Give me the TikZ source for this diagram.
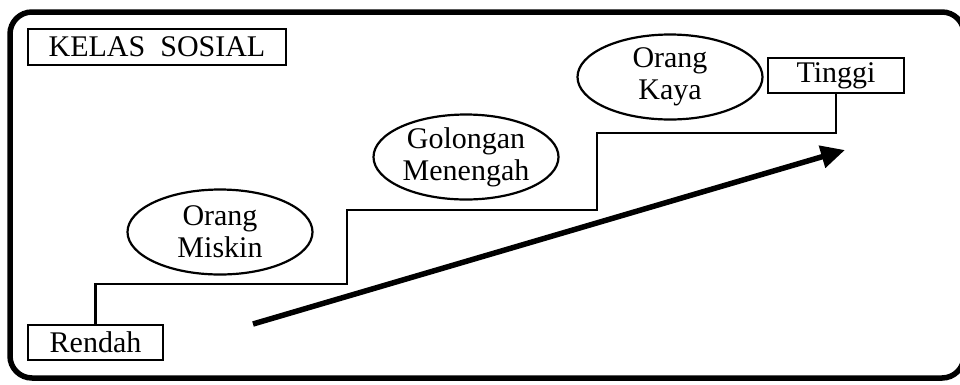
\documentclass[tikz,border=0pt]{standalone}
\usepackage{fontspec}
\setmainfont{Liberation Serif}
\usetikzlibrary{shapes.geometric,arrows.meta}
\begin{document}
\begin{tikzpicture}[x=1pt,y=-1pt,
  lbl/.style={font=\fontsize{30}{32}\selectfont, align=center},
  box/.style={lbl, draw, line width=2.2pt, rectangle, inner sep=0pt},
  oval/.style={lbl, draw, line width=2.2pt, ellipse, inner sep=0pt, minimum width=185pt, minimum height=85pt},
  stepline/.style={line width=2.8pt, line join=miter},
  bigarrow/.style={line width=5.5pt, -{Triangle[length=24pt,width=22pt]}},
  frame/.style={line width=5.5pt, rounded corners=22pt}]
\useasboundingbox (0,0) rectangle (960,384);
\clip (0,0) rectangle (960,384);
\draw[frame] (10,12) rectangle (964,378);
\node[box, minimum width=258pt, minimum height=36pt] (kelas) at (157,47) {KELAS\ \ SOSIAL};
\node[box, minimum width=136pt, minimum height=35pt] (tinggi) at (836,75.5) {Tinggi};
\node[box, minimum width=135pt, minimum height=35pt] (rendah) at (95.5,342.5) {Rendah};
\node[oval] (miskin) at (220,232) {Orang\\Miskin};
\node[oval] (menengah) at (466,157) {Golongan\\Menengah};
\node[oval] (kaya) at (670,77) {Orang\\Kaya};
\coordinate (b) at (347,284);
\coordinate (d) at (597,210);
\coordinate (f) at (836,133);
\draw[stepline] (rendah.north) |- (b) |- (d) |- (f) -- (tinggi.south);
\coordinate (arrS) at (253,324);
\coordinate (arrE) at (845,150);
\draw[bigarrow] (arrS) -- (arrE);
\end{tikzpicture}
\end{document}
